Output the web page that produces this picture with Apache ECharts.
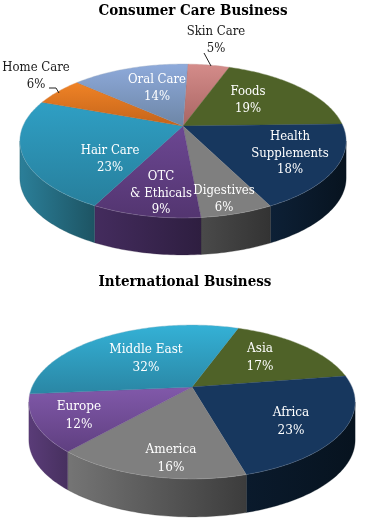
<!DOCTYPE html>
<html><head><meta charset="utf-8">
<style>html,body{margin:0;padding:0;background:#fff}#c{width:366px;height:528px}</style>
<script src="https://cdn.jsdelivr.net/npm/echarts@6/dist/echarts.min.js"></script>
</head><body><div id="c"></div>
<script>
// Data
var consumerNames = ['Skin Care','Foods','Health\nSupplements','Digestives','OTC\n& Ethicals','Hair Care','Home Care','Oral Care'];
var consumerValues = [5,19,18,6,9,23,6,14];
var intlNames = ['Asia','Africa','America','Europe','Middle East'];
var intlValues = [17,23,16,12,32];

// Styles: [top-face start, top-face end, wall left, wall right]
var consumerColors = [
 ['#d48c8a','#a96563','#8a4f4d','#8a4f4d'],
 ['#4f6228','#4f6228','#2f3b18','#2f3b18'],
 ['#17375e','#17375e','#0d2036','#07131f'],
 ['#7f7f7f','#7f7f7f','#4a4a4a','#333333'],
 ['#6c4793','#533570','#442c5e','#2e1e40'],
 ['#2f9fc4','#277f9c','#2b7f99','#1d5463'],
 ['#f08326','#c4641a','#a85515','#a85515'],
 ['#8eaadb','#6d86a6','#55688a','#55688a']
];
var intlColors = [
 ['#4f6228','#4f6228','#2f3b18','#2f3b18'],
 ['#17375e','#17375e','#0a1a2c','#07131f'],
 ['#7f7f7f','#7f7f7f','#757575','#3c3c3c'],
 ['#8159aa','#5f3f80','#5a3c78','#47305f'],
 ['#34b1d6','#2a86a4','#2b7f99','#2b7f99']
];

// Layout
var consumerPie = {cx:183,cy:126,R:160,Rs:74,k:0.195,depth:37,start:2,
  labels:[[216,32],[248,92],[290,145],[224,191],[161,185],[110,151],[36,68],[157,80]],
  lineHeight:16.3,fontSize:13,
  dark:[true,false,false,false,false,false,true,false]};
var intlPie = {cx:192,cy:387,R:160,Rs:74,k:0.195,depth:38,start:20,
  labels:[[260,349],[291,413],[171,450],[79,407],[146,350]],
  lineHeight:18,fontSize:13.4,
  dark:[false,false,false,false,false]};
var leaders = [
  [[204,53],[211,66]],
  [[49,88],[56,88],[59,93]]
];
var FONT = '"DejaVu Serif Condensed", "DejaVu Serif", serif';
var TITLE_FONT = '"DejaVu Serif Condensed", "DejaVu Serif", serif';

function project(p,deg,drop){
  var t=deg*Math.PI/180, w=1+p.k*Math.cos(t);
  return [p.cx+p.R*Math.sin(t)/w, p.cy-p.Rs*Math.cos(t)/w+(drop||0)];
}
function rim(p,a,b,drop){
  var pts=[],n=Math.max(2,Math.ceil(Math.abs(b-a)));
  for(var i=0;i<=n;i++) pts.push(project(p,a+(b-a)*i/n,drop));
  return pts;
}
function angles(values,start){
  var total=values.reduce(function(s,v){return s+v},0),acc=start,out=[];
  values.forEach(function(v){var e=acc+v/total*360;out.push([acc,e]);acc=e;});
  return out;
}
function vGrad(a,b){return {type:'linear',x:0,y:0,x2:0,y2:1,colorStops:[{offset:0,color:a},{offset:1,color:b}]};}
function hGrad(a,b){return {type:'linear',x:0,y:0,x2:1,y2:0,colorStops:[{offset:0,color:a},{offset:1,color:b}]};}

function wallSeries(p,names,values,colors){
  var ang=angles(values,p.start);
  // the wall is only visible between the two silhouette tangents of the projected rim
  var tan=Math.acos(-p.k)*180/Math.PI, lo=tan, hi=360-tan;
  return {type:'custom',coordinateSystem:'none',silent:true,z:1,
    data:values.map(function(v,i){return {name:names[i],value:v};}),
    renderItem:function(params){
      var i=params.dataIndex,a=ang[i],c=colors[i];
      var s=Math.max(a[0],lo),e=Math.min(a[1],hi);
      if(e<=s) return {type:'group',children:[]};
      var pts=rim(p,s,e,0).concat(rim(p,e,s,p.depth));
      return {type:'polygon',shape:{points:pts},
        style:{fill:hGrad(c[2],c[3]),stroke:c[3],lineWidth:0.3}};
    }};
}
function topSeries(p,names,values,colors){
  var ang=angles(values,p.start);
  return {type:'custom',coordinateSystem:'none',silent:true,z:2,
    data:values.map(function(v,i){return {name:names[i],value:v};}),
    renderItem:function(params,api){
      var i=params.dataIndex,a=ang[i],c=colors[i];
      var pts=[[p.cx,p.cy]].concat(rim(p,a[0],a[1],0));
      return {type:'group',children:[
        {type:'polygon',shape:{points:pts},
         style:{fill:vGrad(c[0],c[1]),stroke:c[1],lineWidth:0.3}},
        {type:'polyline',shape:{points:rim(p,a[0],a[1],0)},
         style:{fill:null,stroke:'rgba(255,255,255,0.18)',lineWidth:0.8}},
        {type:'text',z2:10,x:p.labels[i][0],y:p.labels[i][1]+p.lineHeight/2,
         style:{text:names[i]+'\n'+api.value(0)+'%',font:p.fontSize+'px '+FONT,
                fill:p.dark[i]?'#1a1a1a':'#ffffff',align:'center',verticalAlign:'middle',
                lineHeight:p.lineHeight}}
      ]};
    }};
}

var chart=echarts.init(document.getElementById('c'),null,{renderer:'canvas'});
chart.setOption({
  animation:false,
  backgroundColor:'#ffffff',
  title:[
    {text:'Consumer Care Business',left:188,top:-1,textAlign:'center',
     textStyle:{fontFamily:TITLE_FONT,fontWeight:'bold',fontSize:15,color:'#000'}},
    {text:'International Business',left:180,top:270,textAlign:'center',
     textStyle:{fontFamily:TITLE_FONT,fontWeight:'bold',fontSize:15,color:'#000'}}
  ],
  graphic:leaders.map(function(l){
    return {type:'polyline',z:5,shape:{points:l},style:{fill:null,stroke:'#222',lineWidth:1}};
  }),
  series:[
    wallSeries(consumerPie,consumerNames,consumerValues,consumerColors),
    topSeries(consumerPie,consumerNames,consumerValues,consumerColors),
    wallSeries(intlPie,intlNames,intlValues,intlColors),
    topSeries(intlPie,intlNames,intlValues,intlColors)
  ]
});
</script></body></html>
